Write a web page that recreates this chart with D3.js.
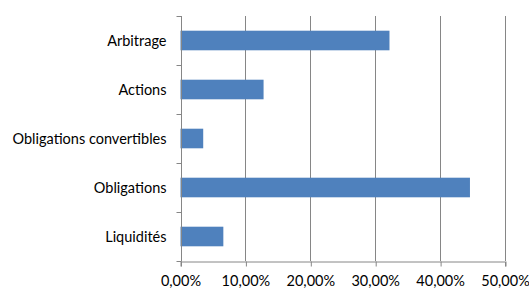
<!DOCTYPE html>
<html>
<head>
<meta charset="utf-8">
<script src="https://cdn.jsdelivr.net/npm/d3@7"></script>
<style>
    body { margin: 0; background: #fff; }
    text { font-family: Lato, "Open Sans", sans-serif; font-size: 14.5px; fill: #000; }
</style>
</head>
<body>
<div id="chart"></div>
<script>
const categories = ["Arbitrage", "Actions", "Obligations convertibles", "Obligations", "Liquidités"];
const values = [0.322, 0.128, 0.035, 0.446, 0.066];
const xTicks = [0, 0.1, 0.2, 0.3, 0.4, 0.5];

const
    width = 529,
    height = 289,
    margin = { left: 180.5, top: 16, right: 24, bottom: 28 };

const svg = d3.select("#chart").append("svg")
    .attr("width", width)
    .attr("height", height);

const x = d3.scaleLinear()
    .domain([0, 0.5])
    .range([margin.left, width - margin.right]);

const y = d3.scaleBand()
    .domain(categories)
    .range([margin.top, height - margin.bottom])
    .paddingInner(0.6)
    .paddingOuter(0.3);

const fmt = d => d3.format(".2f")(d * 100).replace(".", ",") + "%";

// vertical gridlines
svg.append("g")
    .selectAll("line")
    .data(xTicks.slice(1))
    .join("line")
    .attr("x1", d => Math.round(x(d)) + 0.5)
    .attr("x2", d => Math.round(x(d)) + 0.5)
    .attr("y1", margin.top)
    .attr("y2", height - margin.bottom)
    .attr("stroke", "#868686")
    .attr("stroke-width", 1);

// bars
svg.append("g")
    .selectAll("rect")
    .data(categories)
    .join("rect")
    .attr("x", x(0))
    .attr("y", d => y(d))
    .attr("width", (d, i) => x(values[i]) - x(0))
    .attr("height", y.bandwidth())
    .attr("fill", "#4f81bd");

// x axis
const xAxis = svg.append("g")
    .attr("transform", `translate(0,${height - margin.bottom + 0.5})`)
    .call(d3.axisBottom(x).tickValues(xTicks).tickFormat(fmt).tickSize(5).tickPadding(9));
xAxis.select(".domain").attr("stroke", "#868686");
xAxis.selectAll(".tick line").attr("stroke", "#868686").attr("transform", "translate(0.5,0)");
xAxis.selectAll("text").attr("fill", "#000").style("font-size", "14.5px").style("font-family", "Lato, 'Open Sans', sans-serif");

// y axis: ticks between categories
const yAxis = svg.append("g").attr("transform", `translate(${Math.round(x(0)) + 0.5},0)`);
yAxis.append("line")
    .attr("y1", margin.top)
    .attr("y2", height - margin.bottom)
    .attr("stroke", "#868686");
const step = (height - margin.bottom - margin.top) / categories.length;
yAxis.selectAll("line.tk")
    .data(d3.range(categories.length + 1))
    .join("line")
    .attr("class", "tk")
    .attr("x1", -5)
    .attr("x2", 0)
    .attr("y1", i => Math.round(margin.top + i * step) + 0.5)
    .attr("y2", i => Math.round(margin.top + i * step) + 0.5)
    .attr("stroke", "#868686");
yAxis.selectAll("text")
    .data(categories)
    .join("text")
    .attr("x", -15)
    .attr("y", d => y(d) + y.bandwidth() / 2)
    .attr("dy", "0.35em")
    .attr("text-anchor", "end")
    .text(d => d);
</script>
</body>
</html>
